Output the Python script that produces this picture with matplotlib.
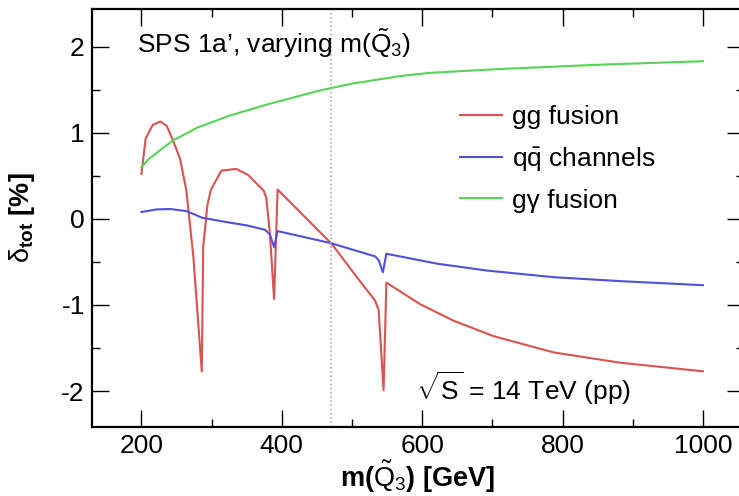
import matplotlib
matplotlib.use("Agg")
import matplotlib.pyplot as plt
from matplotlib.ticker import MultipleLocator, FuncFormatter

plt.rcParams['font.family'] = ['Liberation Sans', 'DejaVu Sans']
plt.rcParams['mathtext.fontset'] = 'custom'
plt.rcParams['mathtext.rm'] = 'Liberation Sans'
plt.rcParams['mathtext.it'] = 'Liberation Sans:italic'
plt.rcParams['mathtext.bf'] = 'Liberation Sans:bold'
plt.rcParams['mathtext.sf'] = 'Liberation Sans'

# ---- data ----
gg_x = [200, 206, 216, 227, 236, 245, 255, 264, 274, 281, 286, 288, 294, 299, 314, 335,
        352, 364, 374, 378, 383, 389, 394, 471, 511, 533, 538, 545, 549, 597, 644, 701,
        787, 882, 1000]
gg_y = [0.52, 0.93, 1.09, 1.13, 1.08, 0.91, 0.70, 0.33, -0.44, -1.22, -1.77, -0.33, 0.16,
        0.34, 0.56, 0.58, 0.51, 0.41, 0.33, 0.24, -0.17, -0.93, 0.34, -0.29, -0.72, -0.95,
        -1.06, -1.99, -0.74, -0.99, -1.18, -1.36, -1.55, -1.67, -1.77]

qq_x = [200, 222, 241, 264, 276, 286, 321, 350, 376, 383, 389, 394, 469, 533, 538, 544,
        549, 621, 692, 787, 882, 1000]
qq_y = [0.08, 0.11, 0.114, 0.09, 0.05, 0.014, -0.037, -0.076, -0.126, -0.18, -0.33,
        -0.142, -0.28, -0.436, -0.48, -0.62, -0.405, -0.52, -0.60, -0.677, -0.723, -0.77]

ga_x = [200, 210, 227, 245, 280, 326, 380, 454, 500, 568, 611, 711, 853, 1000]
ga_y = [0.60, 0.69, 0.80, 0.91, 1.06, 1.20, 1.33, 1.49, 1.57, 1.657, 1.695, 1.74, 1.79, 1.83]

x_ref = 470  # dotted reference mass

labels = ["gg fusion", r"q$\mathrm{\bar{q}}$ channels", "g\u03b3 fusion"]
colors = ["#d9534f", "#5050dc", "#55d455"]

W, H = 739, 496
fig = plt.figure(figsize=(W / 100, H / 100), dpi=100)
AX_L, AX_R, AX_T, AX_B = 91.8, 744.0, 9.3, 426.7
ax = fig.add_axes([AX_L / W, 1 - AX_B / H, (AX_R - AX_L) / W, (AX_B - AX_T) / H])


def ax_frac(px, py):
    return (px - AX_L) / (AX_R - AX_L), 1 - (py - AX_T) / (AX_B - AX_T)


for xs, ys, lab, c in zip([gg_x, qq_x, ga_x], [gg_y, qq_y, ga_y], labels, colors):
    ax.plot(xs, ys, color=c, lw=1.5, label=lab)

ax.axvline(x_ref, color="#b0b0b0", lw=1.2, ls=(0, (1, 1.5)))

ax.set_xlim(129.3, 1058.5)
ax.set_ylim(-2.413, 2.433)

ax.xaxis.set_major_locator(MultipleLocator(200))
ax.xaxis.set_minor_locator(MultipleLocator(100))
ax.yaxis.set_major_locator(MultipleLocator(1))
ax.yaxis.set_minor_locator(MultipleLocator(0.5))
ax.tick_params(which='both', direction='in', top=True, right=True, width=1.0, labelsize=19)
ax.tick_params(which='major', length=12.5, pad=5)
ax.tick_params(which='minor', length=6)
for s in ax.spines.values():
    s.set_linewidth(1.6)

fmt = FuncFormatter(lambda v, p: f"{v:g}")
ax.xaxis.set_major_formatter(fmt)
ax.yaxis.set_major_formatter(fmt)

ax.set_xlabel(r"m($\mathrm{\tilde{Q}_3}$) [GeV]", fontsize=19.5, fontweight='bold')
ax.xaxis.set_label_coords(0.5, -0.078)
ax.set_ylabel(r"$\mathrm{\delta}_{\mathbf{tot}}$ [%]", fontsize=19.5, fontweight='bold')
ax.yaxis.set_label_coords(-0.084, 0.5)

ax.text(*ax_frac(136.7, 43), "SPS 1a\u2019, varying m($\\mathrm{\\tilde{Q}_3}$)",
        fontsize=19, transform=ax.transAxes, va='center', ha='left')
ax.text(*ax_frac(416, 388), r"$\sqrt{\mathrm{S}}$ = 14 TeV (pp)", fontsize=19,
        transform=ax.transAxes, va='center', ha='left')

ax.legend(loc='upper left', bbox_to_anchor=ax_frac(460, 105),
          frameon=False, fontsize=19, handlelength=1.6, handletextpad=0.38,
          labelspacing=0.6, borderaxespad=0, borderpad=0)

fig.savefig("out.png", dpi=100)
